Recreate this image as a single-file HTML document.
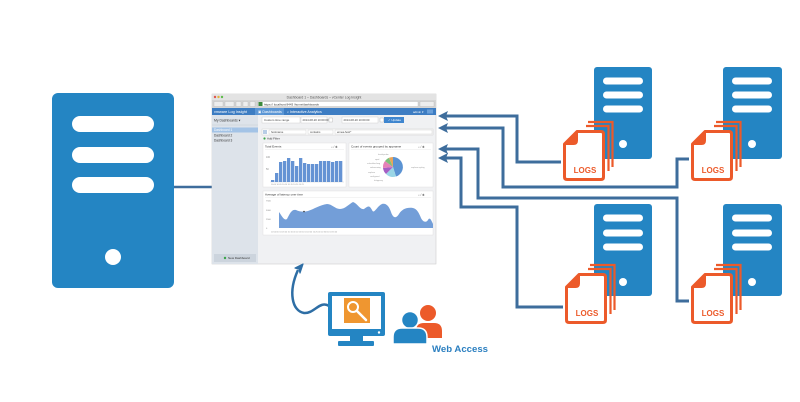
<!DOCTYPE html>
<html>
<head>
<meta charset="utf-8">
<style>
  html,body{margin:0;padding:0;background:#fff;}
  body{width:800px;height:402px;overflow:hidden;}
  svg{display:block;font-family:"Liberation Sans",sans-serif;}
</style>
</head>
<body>
<svg width="800" height="402" viewBox="0 0 800 402" xmlns="http://www.w3.org/2000/svg">
  <defs>
    <radialGradient id="shadow" cx="50%" cy="0%" r="60%">
      <stop offset="0%" stop-color="#9a9a9a" stop-opacity="0.9"/>
      <stop offset="100%" stop-color="#ffffff" stop-opacity="0"/>
    </radialGradient>
    <g id="logs">
      <path d="M25 -8 H49.5 V37" fill="none" stroke="#ec5a2a" stroke-width="2.2"/>
      <path d="M23 -4 H45.5 V41" fill="none" stroke="#ec5a2a" stroke-width="2.2"/>
      <path d="M14 1.5 H38 Q40.5 1.5 40.5 4 V47 Q40.5 49.5 38 49.5 H4 Q1.5 49.5 1.5 47 V14 Z" fill="#fff" stroke="#ec5a2a" stroke-width="3" stroke-linejoin="round"/>
      <path d="M1.5 14 L14 1.5 V10.5 Q14 14 10.5 14 Z" fill="#ec5a2a" stroke="#ec5a2a" stroke-width="2" stroke-linejoin="round"/>
      <text x="22" y="43" font-size="8" font-weight="bold" fill="#ec5a2a" text-anchor="middle">LOGS</text>
    </g>
  </defs>

  <rect width="800" height="402" fill="#fff"/>

  <!-- Left big server -->
  <rect x="52" y="93" width="122" height="195" rx="6" fill="#2485c3"/>
  <rect x="72" y="116" width="82" height="16" rx="8" fill="#fff"/>
  <rect x="72" y="147" width="82" height="16" rx="8" fill="#fff"/>
  <rect x="72" y="177" width="82" height="16" rx="8" fill="#fff"/>
  <circle cx="113" cy="257" r="8" fill="#fff"/>
  <line x1="174" y1="187" x2="213" y2="187" stroke="#3e6d9c" stroke-width="2.5"/>

  <ellipse cx="325" cy="264" rx="45" ry="6" fill="url(#shadow)"/>

  <!-- Screenshot -->
  <g>
    <rect x="212" y="94" width="224" height="170" fill="#f0f1f3" stroke="#cfcfcf" stroke-width="0.6"/>
    <rect x="212" y="94" width="224" height="6" fill="#e3e3e3"/>
    <circle cx="215" cy="97" r="1.2" fill="#e0574f"/>
    <circle cx="218.5" cy="97" r="1.2" fill="#e3b340"/>
    <circle cx="222" cy="97" r="1.2" fill="#5fbd4c"/>
    <text x="324" y="98.6" font-size="3.4" fill="#555" text-anchor="middle">Dashboard 1 – Dashboards – vCenter Log Insight</text>
    <rect x="212" y="100" width="224" height="8" fill="#d5d5d5"/>
    <rect x="214" y="101.5" width="9" height="5" fill="#eee" stroke="#aaa" stroke-width="0.3"/>
    <rect x="225" y="101.5" width="9" height="5" fill="#eee" stroke="#aaa" stroke-width="0.3"/>
    <rect x="236" y="101.5" width="5" height="5" fill="#eee" stroke="#aaa" stroke-width="0.3"/>
    <rect x="243" y="101.5" width="5" height="5" fill="#eee" stroke="#aaa" stroke-width="0.3"/>
    <rect x="250" y="101.5" width="5" height="5" fill="#eee" stroke="#aaa" stroke-width="0.3"/>
    <rect x="258" y="101.5" width="160" height="5" fill="#fff" stroke="#aaa" stroke-width="0.3"/>
    <rect x="258.5" y="102" width="4" height="4" fill="#3c8a3c"/>
    <text x="264" y="105.3" font-size="3" fill="#333">https://  localhost:9443  /home/dashboards</text>
    <rect x="420" y="101.5" width="14" height="5" fill="#eee" stroke="#aaa" stroke-width="0.3"/>
    <rect x="212" y="108" width="224" height="7" fill="#3d7dc3"/>
    <text x="214" y="113" font-size="3.8" fill="#fff">vmware Log Insight</text>
    <rect x="255" y="108" width="29" height="7" fill="#5b96d5"/>
    <text x="258" y="113" font-size="3.6" fill="#fff">▣ Dashboards</text>
    <text x="287" y="113" font-size="3.6" fill="#fff">⌕ Interactive Analytics</text>
    <text x="413" y="113" font-size="3" fill="#fff">admin ▾</text>
    <rect x="427" y="109.5" width="6" height="4" fill="#6aa0da"/>
    <rect x="212" y="115" width="46" height="149" fill="#dde3ea"/>
    <text x="214" y="121.5" font-size="3.4" fill="#333">My Dashboards ▾</text>
    <line x1="212" y1="125" x2="258" y2="125" stroke="#c5ccd4" stroke-width="0.5"/>
    <rect x="212" y="127.5" width="46" height="5" fill="#a3c3e6"/>
    <text x="214" y="131.2" font-size="3.2" fill="#fff">Dashboard 1</text>
    <text x="214" y="136.5" font-size="3.2" fill="#333">Dashboard 2</text>
    <text x="214" y="141.5" font-size="3.2" fill="#333">Dashboard 3</text>
    <rect x="214" y="254" width="42" height="8" fill="#ccd4dd"/>
    <circle cx="225" cy="258" r="1.2" fill="#3aa64a"/>
    <text x="228" y="259.2" font-size="3" fill="#333">New Dashboard</text>
    <rect x="262" y="117" width="38" height="6" fill="#fff" stroke="#c8c8c8" stroke-width="0.4"/>
    <text x="264" y="121.2" font-size="3" fill="#444">Custom time range</text>
    <rect x="301" y="117" width="26" height="6" fill="#fff" stroke="#c8c8c8" stroke-width="0.4"/>
    <text x="302.5" y="121.2" font-size="2.8" fill="#444">2014-08-20 10:00:00</text>
    <rect x="329" y="118" width="3.5" height="4" fill="#fff" stroke="#999" stroke-width="0.3"/>
    <rect x="342" y="117" width="36" height="6" fill="#fff" stroke="#c8c8c8" stroke-width="0.4"/>
    <text x="343.5" y="121.2" font-size="2.8" fill="#444">2014-08-20 10:00:00</text>
    <rect x="380" y="118" width="3.5" height="4" fill="#fff" stroke="#999" stroke-width="0.3"/>
    <rect x="384" y="117" width="20" height="6" fill="#3f86cf"/>
    <text x="388" y="121.2" font-size="3" fill="#fff">✓ Update</text>
    <rect x="262" y="129" width="171" height="6" fill="#fff" stroke="#c8c8c8" stroke-width="0.4"/>
    <rect x="263" y="130" width="4" height="4" fill="#b8cde6"/>
    <rect x="269" y="130" width="37" height="4" fill="#fff" stroke="#bbb" stroke-width="0.3"/>
    <text x="271" y="133.2" font-size="2.8" fill="#444">hostname</text>
    <rect x="308" y="130" width="25" height="4" fill="#fff" stroke="#bbb" stroke-width="0.3"/>
    <text x="310" y="133.2" font-size="2.8" fill="#444">contains</text>
    <rect x="335" y="130" width="97" height="4" fill="#fff" stroke="#bbb" stroke-width="0.3"/>
    <text x="337" y="133.2" font-size="2.8" fill="#444">emea-host*</text>
    <circle cx="264.5" cy="138.5" r="1.1" fill="#3aa64a"/>
    <text x="267" y="139.6" font-size="3" fill="#333">Add Filter</text>
    <rect x="263" y="143" width="83" height="44" fill="#fff" stroke="#dadada" stroke-width="0.4"/>
    <text x="265" y="147.5" font-size="3" fill="#333">Total Events</text>
    <text x="331" y="147.8" font-size="3.2" fill="#666">⌕ ⁄ ✱</text>
    <line x1="265" y1="149.5" x2="344" y2="149.5" stroke="#e2e2e2" stroke-width="0.4"/>
    <text x="266" y="158" font-size="2.4" fill="#888">100</text>
    <text x="266" y="170" font-size="2.4" fill="#888">50</text>
    <line x1="270" y1="182" x2="344" y2="182" stroke="#ccc" stroke-width="0.4"/>
    <g fill="#6593d4">
      <rect x="271" y="180" width="3.3" height="2"/>
      <rect x="275" y="173" width="3.3" height="9"/>
      <rect x="279" y="162" width="3.3" height="20"/>
      <rect x="283" y="161" width="3.3" height="21"/>
      <rect x="287" y="158" width="3.3" height="24"/>
      <rect x="291" y="161" width="3.3" height="21"/>
      <rect x="295" y="166" width="3.3" height="16"/>
      <rect x="299" y="158" width="3.3" height="24"/>
      <rect x="303" y="163" width="3.3" height="19"/>
      <rect x="307" y="164" width="3.3" height="18"/>
      <rect x="311" y="164" width="3.3" height="18"/>
      <rect x="315" y="164" width="3.3" height="18"/>
      <rect x="319" y="161" width="3.3" height="21"/>
      <rect x="323" y="161" width="3.3" height="21"/>
      <rect x="327" y="161" width="3.3" height="21"/>
      <rect x="331" y="162" width="3.3" height="20"/>
      <rect x="335" y="161" width="3.3" height="21"/>
      <rect x="339" y="161" width="3.3" height="21"/>
    </g>
    <text x="271" y="185" font-size="2" fill="#999">10:00   10:05   10:10   10:15   10:20   10:25</text>
    <rect x="349" y="143" width="84" height="44" fill="#fff" stroke="#dadada" stroke-width="0.4"/>
    <text x="351" y="147.5" font-size="3" fill="#333">Count of events grouped by appname</text>
    <text x="418" y="147.8" font-size="3.2" fill="#666">⌕ ⁄ ✱</text>
    <line x1="351" y1="149.5" x2="431" y2="149.5" stroke="#e2e2e2" stroke-width="0.4"/>
    <g transform="translate(393,167)">
      <path d="M0 0 L0 -10 A10 10 0 0 1 3 9.5 Z" fill="#5b93d3"/>
      <path d="M0 0 L3 9.5 A10 10 0 0 1 -7 7 Z" fill="#9ad6e6"/>
      <path d="M0 0 L-7 7 A10 10 0 0 1 -10 1 Z" fill="#a55fc4"/>
      <path d="M0 0 L-10 1 A10 10 0 0 1 -8 -6 Z" fill="#e582b8"/>
      <path d="M0 0 L-8 -6 A10 10 0 0 1 -4 -9.2 Z" fill="#7cc07a"/>
      <path d="M0 0 L-4 -9.2 A10 10 0 0 1 0 -10 Z" fill="#e8a55a"/>
    </g>
    <g font-size="2" fill="#999">
      <text x="378" y="155">hostd-probe</text>
      <text x="375" y="160">vpxd</text>
      <text x="367" y="164">scheduler-fwrg</text>
      <text x="370" y="168">vmkwarning</text>
      <text x="368" y="173">vsphere</text>
      <text x="370" y="177">configured</text>
      <text x="374" y="181">rhttpproxy</text>
      <text x="411" y="168">vsphere-syslog</text>
    </g>
    <rect x="263" y="191" width="170" height="44" fill="#fff" stroke="#dadada" stroke-width="0.4"/>
    <text x="265" y="195.5" font-size="3" fill="#333">Average of latency over time</text>
    <text x="418" y="195.8" font-size="3.2" fill="#666">⌕ ⁄ ✱</text>
    <line x1="265" y1="197.5" x2="431" y2="197.5" stroke="#e2e2e2" stroke-width="0.4"/>
    <text x="266" y="201.5" font-size="2.2" fill="#888">7500</text>
    <text x="266" y="211" font-size="2.2" fill="#888">5000</text>
    <text x="266" y="220" font-size="2.2" fill="#888">2500</text>
    <text x="266" y="229" font-size="2.2" fill="#888">0</text>
    <path d="M279 228 L279 212 C282 216 284 221 287 219 C290 213 292 209 296 210 C300 212 304 212 308 211 C314 209 320 205 327 204 C332 204 335 209 340 209 C345 209 349 204 353 202 C357 203 360 210 364 209 C367 207 369 204 372 210 C374 215 377 206 382 204 C386 203 389 206 391 212 C393 218 396 219 399 214 C402 209 407 207 413 208 C417 209 419 213 421 218 C423 222 426 223 428 220 C430 216 432 222 433 224 L433 228 Z" fill="#739ed8"/>
    <circle cx="304" cy="211.5" r="0.8" fill="#333"/>
    <text x="271" y="232.5" font-size="2" fill="#999">10:00:00    10:05:00    10:10:00    10:15:00    10:20:00    10:25:00    10:30:00    10:35:00</text>
  </g>

  <!-- Right servers -->
  <g fill="#2485c3">
    <rect x="594" y="67" width="58" height="92" rx="3"/>
    <rect x="723" y="67" width="59" height="92" rx="3"/>
    <rect x="594" y="204" width="58" height="92" rx="3"/>
    <rect x="723" y="204" width="59" height="92" rx="3"/>
  </g>
  <g fill="#fff">
    <rect x="603" y="77.5" width="40" height="7" rx="3.5"/>
    <rect x="603" y="91.5" width="40" height="7" rx="3.5"/>
    <rect x="603" y="105.5" width="40" height="7" rx="3.5"/>
    <circle cx="623" cy="144" r="4"/>
    <rect x="732" y="77.5" width="40" height="7" rx="3.5"/>
    <rect x="732" y="91.5" width="40" height="7" rx="3.5"/>
    <rect x="732" y="105.5" width="40" height="7" rx="3.5"/>
    <circle cx="752" cy="144" r="4"/>
    <rect x="603" y="214.5" width="40" height="7" rx="3.5"/>
    <rect x="603" y="229.5" width="40" height="7" rx="3.5"/>
    <rect x="603" y="243.5" width="40" height="7" rx="3.5"/>
    <circle cx="623" cy="282" r="4"/>
    <rect x="732" y="214.5" width="40" height="7" rx="3.5"/>
    <rect x="732" y="229.5" width="40" height="7" rx="3.5"/>
    <rect x="732" y="243.5" width="40" height="7" rx="3.5"/>
    <circle cx="752" cy="282" r="4"/>
  </g>

  <!-- Connectors -->
  <g fill="none" stroke="#3e6d9c" stroke-width="3" stroke-linejoin="miter">
    <path d="M561 162 H517 V116 H444"/>
    <path d="M689 159 H677 V187 H503 V128 H444"/>
    <path d="M689 301 H677 V198 H478 V149 H444"/>
    <path d="M563 307 H517 V207 H461 V158 H444"/>
  </g>
  <g fill="#3e6d9c">
    <path d="M438 116 L448 111 L446 116 L448 121 Z"/>
    <path d="M438 128 L448 123 L446 128 L448 133 Z"/>
    <path d="M438 149 L448 144 L446 149 L448 154 Z"/>
    <path d="M438 158 L448 153 L446 158 L448 163 Z"/>
  </g>

  <use href="#logs" x="563" y="130"/>
  <use href="#logs" x="691" y="130"/>
  <use href="#logs" x="565" y="273"/>
  <use href="#logs" x="691" y="273"/>

  <!-- Curved arrow -->
  <path d="M329 306 C320 300 314 314 304 313 C292 311 288 292 298 270" fill="none" stroke="#2e6ea5" stroke-width="2.5"/>
  <path d="M303 264 L295 268 L299 269 L300 273 Z" fill="#2e6ea5" stroke="#2e6ea5" stroke-width="1.2" stroke-linejoin="round"/>

  <!-- Monitor -->
  <rect x="328" y="292" width="57" height="44" rx="2" fill="#2485c3"/>
  <rect x="332" y="296" width="49" height="33" fill="#fff"/>
  <circle cx="379" cy="332.5" r="1.2" fill="#fff"/>
  <rect x="350" y="336" width="13" height="6" fill="#2485c3"/>
  <rect x="338" y="341" width="36" height="5" rx="1" fill="#2485c3"/>
  <rect x="344" y="298" width="26" height="25" fill="#ef9630"/>
  <circle cx="353" cy="307" r="5" fill="none" stroke="#fff" stroke-width="2"/>
  <line x1="357" y1="311" x2="366" y2="320" stroke="#fff" stroke-width="2.5" stroke-linecap="round"/>

  <!-- Persons -->
  <circle cx="428" cy="313" r="8" fill="#ec5a2a"/>
  <path d="M416 338 V331 Q416 323 424 323 H434 Q442 323 442 331 V338 Z" fill="#ec5a2a"/>
  <circle cx="410" cy="320" r="8.5" fill="#2485c3" stroke="#fff" stroke-width="1.5"/>
  <path d="M393 344 V337 Q393 328 402 328 H418 Q427 328 427 337 V344 Z" fill="#2485c3" stroke="#fff" stroke-width="1.5"/>
  <text x="432" y="352" font-size="9.6" font-weight="bold" fill="#2b7fc0">Web Access</text>
</svg>
</body>
</html>
